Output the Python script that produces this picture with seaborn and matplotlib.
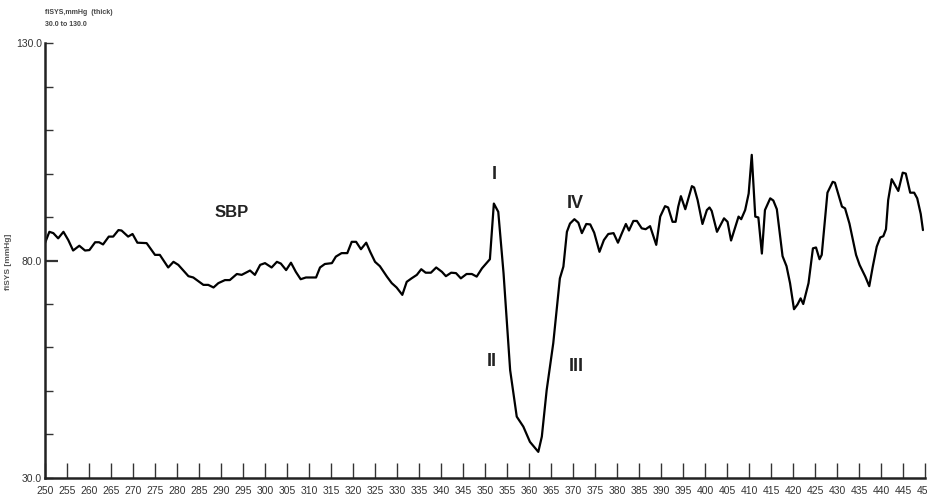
import matplotlib
matplotlib.use("Agg")
import matplotlib.pyplot as plt
import seaborn as sns
import pandas as pd

# Beat-to-beat systolic pressure trace (time in s, pressure in mmHg)
time_s = [
    250.0, 251.0, 251.9, 253.0, 254.2, 255.3, 256.4, 257.8, 259.1, 260.1,
    261.4, 262.3, 263.2, 264.5, 265.5, 266.7, 267.4, 268.9, 269.9, 271.0,
    273.1, 275.0, 276.1, 278.0, 279.2, 280.3, 282.6, 283.7, 286.0, 287.1,
    288.3, 289.4, 290.9, 292.0, 293.6, 294.7, 296.6, 297.7, 298.9, 300.0,
    301.5, 302.7, 303.6, 304.8, 305.9, 307.0, 308.1, 309.3, 311.6, 312.5,
    313.6, 315.2, 316.1, 317.4, 318.7, 319.7, 320.7, 321.8, 323.0, 323.9,
    325.0, 326.1, 327.7, 328.8, 329.9, 331.2, 332.2, 333.3, 334.5, 335.5,
    336.5, 337.7, 338.9, 340.2, 341.1, 342.3, 343.4, 344.5, 345.8, 347.0,
    348.1, 349.3, 351.1, 352.0, 353.0, 354.2, 355.7, 357.2, 358.7, 360.2,
    362.1, 362.9, 364.0, 365.5, 367.0, 367.8, 368.6, 369.3, 370.3, 371.2,
    372.0, 373.0, 373.9, 374.8, 376.0, 377.0, 378.0, 379.2, 380.2, 381.1,
    382.0, 382.7, 383.7, 384.5, 385.6, 386.5, 387.5, 388.9, 389.8, 390.9,
    391.6, 392.6, 393.3, 393.9, 394.5, 395.5, 397.0, 397.5, 398.3, 399.4,
    400.4, 401.0, 401.5, 402.7, 404.3, 405.1, 405.9, 407.6, 408.2, 409.1,
    409.9, 410.6, 411.4, 412.1, 412.9, 413.6, 414.8, 415.5, 416.3, 417.6,
    418.5, 419.3, 420.2, 421.0, 421.7, 422.3, 423.5, 424.5, 425.2, 426.0,
    426.5, 427.3, 427.8, 429.0, 429.5, 431.1, 431.8, 432.8, 434.3, 435.1,
    436.4, 437.3, 438.1, 439.0, 439.8, 440.5, 441.1, 441.6, 442.4, 443.9,
    444.9, 445.6, 446.6, 447.5, 448.2, 449.0, 449.5,
]
sys_mmhg = [
    84.0, 86.6, 86.3, 85.1, 86.6, 84.7, 82.3, 83.4, 82.3, 82.4,
    84.2, 84.2, 83.7, 85.5, 85.5, 87.0, 86.9, 85.5, 86.1, 84.1,
    84.0, 81.3, 81.3, 78.4, 79.7, 79.0, 76.4, 76.1, 74.4, 74.4,
    73.8, 74.8, 75.5, 75.5, 76.9, 76.7, 77.7, 76.7, 79.0, 79.4,
    78.4, 79.7, 79.3, 77.8, 79.5, 77.4, 75.7, 76.1, 76.1, 78.4,
    79.2, 79.4, 80.9, 81.7, 81.7, 84.3, 84.3, 82.6, 84.1, 82.0,
    79.7, 78.7, 76.3, 74.8, 73.8, 72.1, 75.1, 75.9, 76.7, 78.0,
    77.2, 77.2, 78.4, 77.4, 76.4, 77.2, 77.1, 75.9, 76.9, 76.9,
    76.3, 78.2, 80.3, 93.1, 91.2, 77.1, 54.8, 44.1, 41.8, 38.3,
    36.0, 39.5, 50.2, 61.0, 75.9, 78.6, 86.6, 88.5, 89.5, 88.7,
    86.3, 88.4, 88.3, 86.4, 82.0, 84.7, 86.1, 86.3, 84.1, 86.3,
    88.4, 86.9, 89.1, 89.1, 87.4, 87.2, 87.9, 83.6, 90.1, 92.5,
    92.2, 88.9, 88.9, 92.4, 94.8, 91.8, 97.1, 96.8, 93.9, 88.4,
    91.6, 92.2, 91.4, 86.6, 89.7, 88.9, 84.6, 90.1, 89.5, 91.6,
    95.4, 104.3, 90.1, 89.9, 81.6, 91.6, 94.3, 93.8, 91.8, 81.0,
    78.7, 74.8, 68.8, 69.9, 71.3, 70.0, 74.8, 82.8, 83.0, 80.3,
    81.3, 90.1, 95.6, 98.1, 97.9, 92.4, 92.0, 88.5, 81.3, 79.0,
    76.3, 74.1, 78.6, 83.2, 85.3, 85.6, 87.2, 93.9, 98.7, 96.0,
    100.2, 100.0, 95.6, 95.6, 94.3, 90.7, 87.0,
]

x_ticks = list(range(250, 451, 5))
y_ticks = list(range(30, 131, 10))
y_tick_labels = {30: "30.0", 80: "80.0", 130: "130.0"}

phase_labels = ["SBP", "I", "II", "III", "IV"]
phase_x = [292.5, 352.0, 351.6, 370.7, 370.5]
phase_y = [91.1, 99.7, 56.7, 55.7, 93.2]

sns.set_style("white")
plt.rcParams["font.family"] = ["Liberation Sans Narrow", "Liberation Sans", "DejaVu Sans"]

fig = plt.figure(figsize=(9.27, 5.01), dpi=100)
ax = fig.add_axes([0.0485, 0.046, 0.9495, 0.868])

df = pd.DataFrame({"t": time_s, "sys": sys_mmhg})
sns.lineplot(data=df, x="t", y="sys", ax=ax, color="black", linewidth=1.6,
             estimator=None, sort=False)

ax.set_xlim(250, 450)
ax.set_ylim(30, 130)

ax.set_xticks(x_ticks)
ax.set_xticklabels([str(t) for t in x_ticks], fontsize=7.5, color="#333333")
ax.tick_params(axis="x", direction="in", length=11, width=1.0, color="#333333",
               pad=6, bottom=True)

ax.set_yticks(y_ticks)
ax.set_yticklabels([y_tick_labels.get(t, "") for t in y_ticks], fontsize=7.5,
                   color="#333333")
ax.tick_params(axis="y", direction="in", length=6, width=1.0, color="#333333",
               pad=2, left=True)
for tick in ax.yaxis.get_major_ticks():
    if tick.get_loc() == 80:
        tick.tick1line.set_markersize(9)
        tick.tick1line.set_markeredgewidth(1.6)

for side in ("top", "right"):
    ax.spines[side].set_visible(False)
for side in ("left", "bottom"):
    ax.spines[side].set_color("#222222")
    ax.spines[side].set_linewidth(1.8)

ax.set_xlabel("")
ax.set_ylabel("fiSYS [mmHg]", fontsize=6, color="#555555", fontweight="bold")
ax.yaxis.set_label_coords(-0.037, 0.497)

fig.text(0.0485, 0.976, "fiSYS,mmHg  (thick)", fontsize=5, color="#444444",
         fontweight="bold", ha="left", va="center")
fig.text(0.0485, 0.951, "30.0 to 130.0", fontsize=5, color="#444444",
         fontweight="bold", ha="left", va="center")

for lab, xv, yv in zip(phase_labels, phase_x, phase_y):
    ax.text(xv, yv, lab, fontsize=13 if lab != "SBP" else 12, color="#222222",
            ha="center", va="center", fontweight="bold")

fig.savefig("out.png", dpi=100, facecolor="white")
